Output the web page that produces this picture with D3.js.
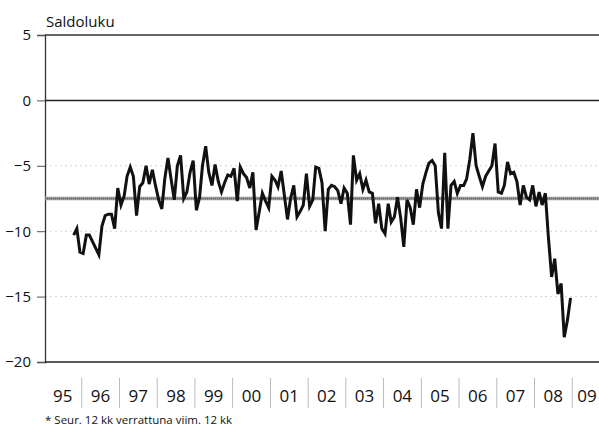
<!DOCTYPE html>
<html>
<head>
<meta charset="utf-8">
<script src="https://cdn.jsdelivr.net/npm/d3@7"></script>
<style>
  body { margin: 0; background: #fff; }
  svg { display: block; font-family: "Open Sans", sans-serif; }
</style>
</head>
<body>
<svg id="chart" width="599" height="427"></svg>
<script>
// monthly balance figures, first value = October 1995
const startYear = 1995, startMonth = 9;
const saldo = [
  -10.3, -9.8, -11.6,                                                      // 95
  -11.7, -10.3, -10.3, -10.8, -11.3, -11.8, -9.6, -8.8, -8.7, -8.7, -9.8, -6.7, // 96
  -8.0, -7.3, -5.8, -5.1, -5.8, -8.8, -6.6, -6.3, -5.0, -6.4, -5.3, -6.5,   // 97
  -7.6, -8.3, -6.0, -4.4, -6.0, -7.6, -5.0, -4.2, -7.5, -7.0, -5.5, -4.6,   // 98
  -8.4, -7.4, -5.0, -3.5, -5.5, -6.5, -4.9, -6.2, -7.0, -6.3, -5.7, -5.8,   // 99
  -5.2, -7.7, -5.1, -5.6, -5.9, -6.7, -5.5, -9.9, -8.5, -7.1, -7.7, -8.2,   // 00
  -5.8, -6.1, -6.6, -5.4, -7.2, -9.1, -7.5, -6.5, -8.9, -8.5, -8.0, -5.6,   // 01
  -8.1, -7.6, -5.1, -5.2, -6.3, -10.0, -6.8, -6.5, -6.6, -6.9, -7.9, -6.7,  // 02
  -7.1, -9.5, -4.2, -6.1, -5.6, -6.8, -6.1, -7.0, -7.1, -9.4, -7.9, -9.8,   // 03
  -10.2, -7.9, -9.3, -8.9, -7.4, -9.0, -11.2, -7.6, -8.2, -9.5, -6.8, -8.2, // 04
  -6.4, -5.5, -4.8, -4.6, -5.0, -8.6, -9.8, -4.0, -9.8, -6.5, -6.2, -7.1,   // 05
  -6.5, -6.5, -6.0, -4.5, -2.5, -5.0, -5.8, -6.6, -5.8, -5.4, -5.0, -3.3,   // 06
  -7.0, -7.1, -6.5, -4.7, -5.6, -5.5, -6.2, -8.0, -6.5, -7.4, -7.6, -6.5,   // 07
  -8.1, -7.0, -8.0, -7.1, -10.5, -13.5, -12.1, -14.8, -14.0, -18.1, -16.8, -15.1 // 08
];
const average = -7.5;
const yearLabels = ['95', '96', '97', '98', '99', '00', '01', '02', '03', '04', '05', '06', '07', '08', '09'];
const yTicks = [5, 0, -5, -10, -15, -20];

const svg = d3.select('#chart');
const W = 599;
const plotLeft = 45, plotTop = 35, plotBottom = 362;

const x = d3.scaleTime()
    .domain([new Date(1995, 0, 1), new Date(2010, 0, 1)])
    .range([44, 610]);
const y = d3.scaleLinear().domain([-20, 5]).range([plotBottom, plotTop]);

const points = saldo.map((v, i) => ({ date: new Date(startYear, startMonth + i, 15), value: v }));

// faint grid lines
svg.append('g').selectAll('line')
    .data([-5, -10, -15])
    .join('line')
    .attr('x1', plotLeft).attr('x2', W)
    .attr('y1', d => y(d)).attr('y2', d => y(d))
    .attr('stroke', '#d4d4d4')
    .attr('stroke-width', 1)
    .attr('stroke-dasharray', '2,3');

// y axis
const yAxis = svg.append('g')
    .attr('transform', `translate(${plotLeft},0)`)
    .call(d3.axisLeft(y).tickValues(yTicks).tickSize(8).tickPadding(6).tickFormat(d3.format('d')));
yAxis.select('.domain').attr('stroke', '#333').attr('stroke-width', 1.3);
yAxis.selectAll('.tick line').attr('stroke', '#555');
yAxis.selectAll('.tick text')
    .attr('font-size', 15)
    .attr('fill', '#111')
    .attr('font-family', '"Open Sans", sans-serif');

// top border, zero line and bottom line
svg.append('line')
    .attr('x1', plotLeft).attr('x2', W)
    .attr('y1', y(5)).attr('y2', y(5))
    .attr('stroke', '#333').attr('stroke-width', 1.3);
svg.append('line')
    .attr('x1', plotLeft).attr('x2', W)
    .attr('y1', y(0)).attr('y2', y(0))
    .attr('stroke', '#222').attr('stroke-width', 1.5);
svg.append('line')
    .attr('x1', plotLeft).attr('x2', W)
    .attr('y1', y(-20)).attr('y2', y(-20))
    .attr('stroke', '#222').attr('stroke-width', 1.5);

// average line
svg.append('line')
    .attr('x1', plotLeft).attr('x2', W)
    .attr('y1', y(average)).attr('y2', y(average))
    .attr('stroke', '#9a9a9a').attr('stroke-width', 3.5);
svg.append('line')
    .attr('x1', plotLeft).attr('x2', W)
    .attr('y1', y(average)).attr('y2', y(average))
    .attr('stroke', '#666').attr('stroke-width', 1.5)
    .attr('stroke-dasharray', '1,1');

// series
const line = d3.line()
    .x(d => x(d.date))
    .y(d => y(d.value));
svg.append('path')
    .datum(points)
    .attr('fill', 'none')
    .attr('stroke', '#111')
    .attr('stroke-width', 3)
    .attr('stroke-linejoin', 'miter')
    .attr('d', line);

// year labels and separators (last label pulled in so it stays inside)
const years = yearLabels.map((t, i) => ({ label: t, year: 1995 + i }));
svg.append('g').selectAll('text')
    .data(years)
    .join('text')
    .attr('x', d => Math.min(x(new Date(d.year, 6, 1)), W - 12))
    .attr('y', 402)
    .attr('text-anchor', 'middle')
    .attr('font-size', 17)
    .attr('fill', '#111')
    .text(d => d.label);
svg.append('g').selectAll('line')
    .data(years.slice(1))
    .join('line')
    .attr('x1', d => x(new Date(d.year, 0, 1)))
    .attr('x2', d => x(new Date(d.year, 0, 1)))
    .attr('y1', 378).attr('y2', 408)
    .attr('stroke', '#bbb').attr('stroke-width', 1);

// titles
svg.append('text')
    .attr('x', 46).attr('y', 27)
    .attr('font-size', 15)
    .attr('fill', '#111')
    .text('Saldoluku');
svg.append('text')
    .attr('x', 45).attr('y', 424)
    .attr('font-size', 11.5)
    .attr('fill', '#111')
    .text('* Seur. 12 kk verrattuna viim. 12 kk');
</script>
</body>
</html>
